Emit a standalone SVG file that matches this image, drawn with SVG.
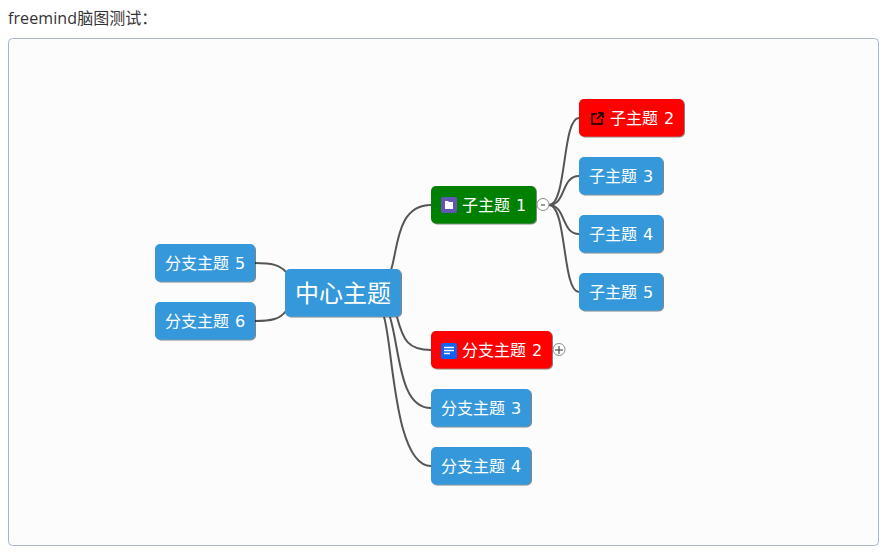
<svg xmlns="http://www.w3.org/2000/svg" width="887" height="556" viewBox="0 0 887 556">
<defs>
<filter id="sh" x="-10%" y="-10%" width="120%" height="130%"><feDropShadow dx="0.8" dy="0.8" stdDeviation="0.6" flood-color="#000" flood-opacity="0.6"/></filter>
</defs>
<style>
text{font-family:"DejaVu Sans","Noto Sans CJK SC",sans-serif;}
.n{filter:url(#sh);}
.t{fill:#fff;font-size:16px;word-spacing:1px;}
.b{fill:#3498db;}
.r{fill:#f00;}
.g{fill:#008000;}
.c{fill:none;stroke:#555;stroke-width:2;}
.e{fill:#fff;stroke:#8a8a8a;stroke-width:1;}
.m{stroke:#333;stroke-width:1;fill:none;}
</style>
<rect width="887" height="556" fill="#fff"/>
<text x="8" y="24" font-size="16" fill="#333" style="font-family:'Open Sans','Noto Sans CJK SC',sans-serif"><tspan letter-spacing="0.1">freemind</tspan>脑图测试：</text>
<rect x="8.500" y="38.500" width="870" height="507" rx="4" ry="4" fill="#fcfcfc" stroke="#a6b7c7"/>
<g id="connectors">
<path class="c" d="M391 270C398 250 396 205 431 205"/>
<path class="c" d="M397 317C403 340 408 350 431 350"/>
<path class="c" d="M390 317C400 350 399 408 431 408"/>
<path class="c" d="M384 317C393 345 394 466 431 466"/>
<path class="c" d="M255 263C272 263 280 265 286 272"/>
<path class="c" d="M255 321C272 321 280 319 286 311"/>
<path class="c" d="M549 205C567 205 562 118 579 118"/>
<path class="c" d="M549 205C566 205 561 176 579 176"/>
<path class="c" d="M549 205C566 205 561 234 579 234"/>
<path class="c" d="M549 205C567 205 562 292 579 292"/>
</g>
<g id="root"><rect class="n b" x="285" y="269" width="116" height="47.500" rx="5"/><text x="295" y="302" fill="#fff" font-size="24">中心主题</text></g>
<g id="topic1"><rect class="n g" x="431" y="186" width="105" height="37.500" rx="5"/><rect x="441" y="197" width="16" height="16" rx="2" fill="#6256b5"/><path d="M445 201h3l1 1h4v7h-8z" fill="#fff"/><text class="t" x="462" y="211">子主题 1</text></g>
<g id="exp1"><circle class="e" cx="543" cy="204.500" r="6"/><path class="m" d="M541 205h4"/></g>
<g id="sub2"><rect class="n r" x="579" y="99" width="105" height="37.500" rx="5"/><path d="M597 114h-5v10h10v-5M598 113h5v5M603 113l-6 6" fill="none" stroke="#000" stroke-width="1.500"/><text class="t" x="610" y="124">子主题 2</text></g>
<g id="sub3"><rect class="n b" x="579" y="157" width="84" height="37.500" rx="5"/><text class="t" x="589" y="182">子主题 3</text></g>
<g id="sub4"><rect class="n b" x="579" y="215" width="84" height="37.500" rx="5"/><text class="t" x="589" y="240">子主题 4</text></g>
<g id="sub5"><rect class="n b" x="579" y="273" width="84" height="37.500" rx="5"/><text class="t" x="589" y="298">子主题 5</text></g>
<g id="branch2"><rect class="n r" x="431" y="331" width="121" height="37.500" rx="5"/><rect x="441" y="343" width="16" height="16" rx="2" fill="#0b62f5"/><path d="M444 347.500h10M444 350.500h10M444 353.500h6" stroke="#fff" stroke-width="1.500"/><text class="t" x="462" y="356">分支主题 2</text></g>
<g id="exp2"><circle class="e" cx="559" cy="349.500" r="6"/><path class="m" d="M555 350h8M559 346v8"/></g>
<g id="branch3"><rect class="n b" x="431" y="389" width="100" height="37.500" rx="5"/><text class="t" x="441" y="414">分支主题 3</text></g>
<g id="branch4"><rect class="n b" x="431" y="447" width="100" height="37.500" rx="5"/><text class="t" x="441" y="472">分支主题 4</text></g>
<g id="branch5"><rect class="n b" x="155" y="244" width="100" height="37.500" rx="5"/><text class="t" x="165" y="269">分支主题 5</text></g>
<g id="branch6"><rect class="n b" x="155" y="302" width="100" height="37.500" rx="5"/><text class="t" x="165" y="327">分支主题 6</text></g>
</svg>
